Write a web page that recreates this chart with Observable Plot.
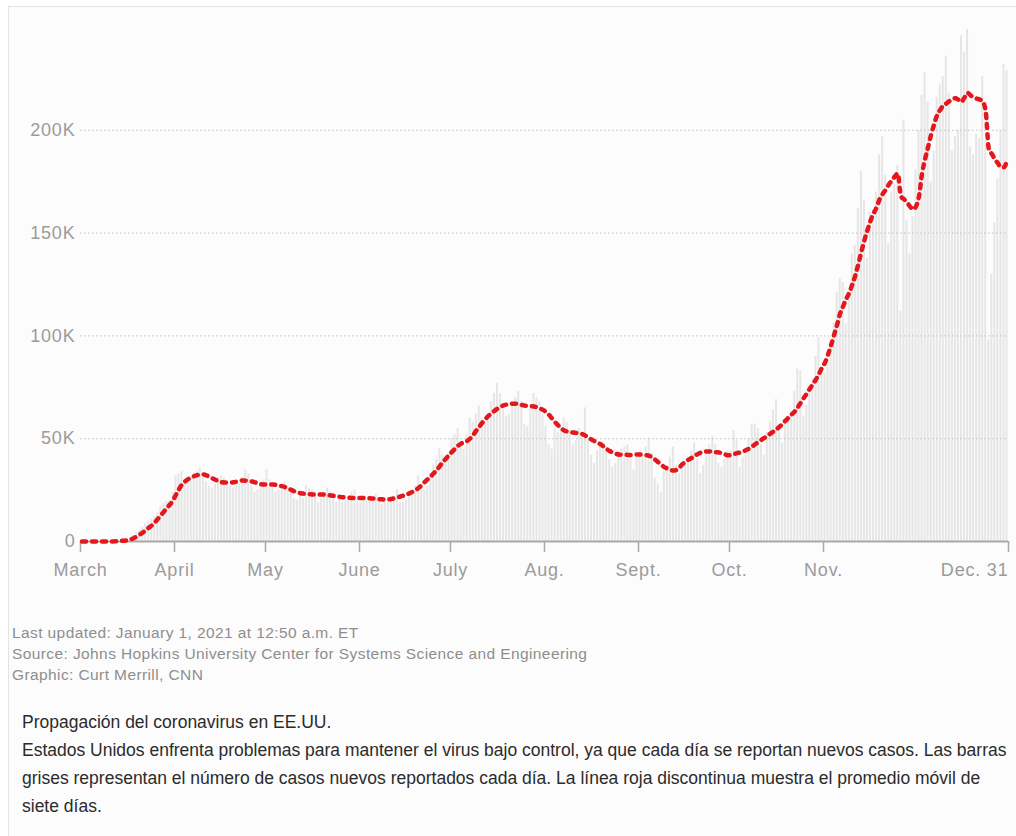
<!DOCTYPE html>
<html>
<head>
<meta charset="utf-8">
<script src="https://cdn.jsdelivr.net/npm/d3@7"></script>
<script src="https://cdn.jsdelivr.net/npm/@observablehq/plot@0.6"></script>
<style>
  body { margin: 0; background: #ffffff; font-family: "Liberation Sans", Arial, sans-serif; }
  #frame { position: absolute; left: 8px; top: 6px; width: 1100px; height: 900px;
           border-left: 1px solid #e3e3e3; border-top: 1px solid #e3e3e3; background: #fcfcfc; }
  #chart { position: absolute; left: 0; top: 0; }
  #notes { position: absolute; left: 12px; top: 622px; font-size: 15.5px; line-height: 21px;
           color: #8e8e8e; white-space: nowrap; letter-spacing: 0.4px; }
  #desc { position: absolute; left: 22px; top: 708px; font-size: 17.5px; line-height: 28px;
          color: #2b2b2b; white-space: nowrap; }
</style>
</head>
<body>
<div id="frame"></div>
<div id="chart"></div>
<div id="notes"></div>
<div id="desc"></div>
<script>
// ---- data (values in thousands of new cases per day) ----
const startDate = "2020-03-01";
const endDate = "2021-01-01";

const dailyCases = [
  // March
  0.01,0.02,0.03,0.04,0.06,0.08,0.12,0.11,0.17,0.29,0.4,0.5,0.66,0.72,0.9,1.2,2,3,4.5,5.5,7,8.5,10,11,12,14,17,18.5,19.5,20,24,
  // April
  32,33,34,28,30,31,33,34,35.5,31,29,27,26,28,31,32,31,29,27,26,27,28,31,35,33,27,24,25,27,30,
  // May
  35,30,26,24,25,27,29,27,26,21,20,22,21,27,26,25,24,19,21,22,26,24,23,19,21,19,20,21,24,25,22,
  // June
  19,21,20,22,21,23,20,18,19,20,21,22,25,19,19,20,23,25,27,32,26,25,27,33,37,40,45,42,38,43,
  // July
  50,52,55,47,45,52,60,58,62,66,60,58,59,68,72,77,72,64,61,62,66,70,73,68,57,56,65,72,70,68,62,
  // August
  56,47,45,55,53,56,60,58,54,47,49,55,52,65,50,42,38,44,46,47,46,40,36,38,44,45,46,47,42,35,41,
  // September
  44,42,46,50,43,31,28,24,34,37,41,46,37,33,37,39,38,44,48,40,33,37,44,47,51,47,38,36,40,44,
  // October
  44,54,49,36,41,43,50,57,57,55,47,42,53,58,64,69,57,48,58,61,63,73,84,83,61,66,74,79,90,99,84,
  // November
  82,88,95,106,121,128,126,106,120,140,144,162,180,166,138,160,158,170,188,197,178,145,170,174,183,112,205,156,140,158,
  // December
  181,200,217,228,214,175,190,216,222,226,236,218,190,197,200,246,238,249,192,188,198,196,226,195,98,130,155,176,200,232,229
];

const sevenDayAverage = [
  // March
  0,0,0,0,0,0,0,0,0,0,0,0.1,0.2,0.3,0.4,0.6,1,1.6,2.4,3.3,4.3,5.5,6.7,7.8,9.2,11,12.8,14.5,16.3,18,20,
  // April
  22.8,25.5,27.8,29.2,30.3,31.2,31.8,32.3,32.6,32.6,32.2,31.4,30.7,30,29.3,28.8,28.7,28.7,28.7,28.8,29.1,29.5,29.7,29.6,29.4,29.2,28.8,28.3,27.9,27.7,
  // May
  27.7,27.7,27.7,27.5,27.2,26.9,26.4,25.8,25.1,24.4,23.9,23.5,23.3,23.1,23,22.9,22.9,22.9,22.9,22.8,22.6,22.4,22.2,22,21.7,21.5,21.4,21.3,21.2,21.2,21.2,
  // June
  21.2,21.2,21.1,21,20.9,20.7,20.6,20.5,20.4,20.5,20.7,21,21.4,21.9,22.3,22.7,23.5,24.2,25,26.1,27.3,28.9,30.3,31.6,33.2,34.8,36.7,38.6,40.3,42,
  // July
  43.6,45.1,46.6,47.6,48.4,48.9,50.1,51.8,53.9,55.8,57.8,59.5,61.1,62.3,63.5,64.6,65.5,66.2,66.6,66.8,67,67,66.8,66.4,66.1,65.9,65.8,65.7,65.3,64.7,64,
  // August
  63,61.6,59.8,58,56.5,55,54,53.5,53.2,53,52.8,52.6,52.2,51.5,50.5,49.6,48.8,48,47.3,46.2,45,44,43.3,42.7,42.3,42.2,42.2,42.1,42.1,42.2,42.3,
  // September
  42.3,42.2,42,41.7,41,39.8,38.6,37.4,36.2,35.5,34.9,34.5,34.8,36,37.6,38.8,39.8,40.6,41.5,42.5,43.2,43.6,43.8,43.8,43.6,43.4,43.3,43,42.4,41.9,
  // October
  42,42.5,43,43.3,43.8,44.5,45.2,46.2,47.3,48.4,49.4,50.4,51.5,52.5,53.5,54.6,55.8,57.2,58.8,60.3,61.8,63.2,65.2,67.5,69.8,72,74.3,76.5,78.8,81.5,84.5,
  // November
  87,91,95.5,100.5,105.5,111,114.5,118,121,125,129.5,135,141,146.5,151.5,156,159.5,162.5,166.5,169,171,173.5,175.5,177.5,179,168,166.5,165,163,161.5,
  // December
  163,168,179,186,192,198,203,207.5,210,212,213,214.2,215.2,215.6,214.8,213.8,216,218.2,217,216,215.4,215,214,209,191,188.5,186,184,182,182,185.5
];

const xTickDates = ["2020-03-01","2020-04-01","2020-05-01","2020-06-01","2020-07-01","2020-08-01","2020-09-01","2020-10-01","2020-11-01","2021-01-01"];
const xTickLabels = ["March","April","May","June","July","Aug.","Sept.","Oct.","Nov.","Dec. 31"];
const yTicks = [0, 50, 100, 150, 200];
const yTickLabels = ["0", "50K", "100K", "150K", "200K"];

const notes = [
  "Last updated: January 1, 2021 at 12:50 a.m. ET",
  "Source: Johns Hopkins University Center for Systems Science and Engineering",
  "Graphic: Curt Merrill, CNN"
];
const descLines = [
  "Propagación del coronavirus en EE.UU.",
  "Estados Unidos enfrenta problemas para mantener el virus bajo control, ya que cada día se reportan nuevos casos. Las barras",
  "grises representan el número de casos nuevos reportados cada día. La línea roja discontinua muestra el promedio móvil de",
  "siete días."
];

// ---- build table ----
const start = new Date(startDate + "T00:00:00Z");
const rows = dailyCases.map((v, i) => {
  const s = d3.utcDay.offset(start, i);
  return {
    start: s,
    end: d3.utcDay.offset(start, i + 1),
    mid: d3.utcHour.offset(s, 12),
    cases: v,
    avg: sevenDayAverage[i]
  };
});

const tickDates = xTickDates.map(d => new Date(d + "T00:00:00Z"));
const xLabelMap = new Map(tickDates.map((d, i) => [+d, xTickLabels[i]]));
const yLabelMap = new Map(yTicks.map((v, i) => [v, yTickLabels[i]]));

const chart = Plot.plot({
  width: 1016,
  height: 600,
  marginLeft: 80,
  marginRight: 8,
  marginTop: 27,
  marginBottom: 59,
  style: {
    background: "transparent",
    fontFamily: "'Liberation Sans', Arial, sans-serif",
    fontSize: "18px",
    letterSpacing: "0.8px",
    color: "#9b9b9b",
    overflow: "visible"
  },
  x: {
    type: "utc",
    domain: [start, new Date(endDate + "T00:00:00Z")],
    ticks: tickDates,
    tickFormat: d => xLabelMap.get(+d),
    tickSize: 11,
    tickPadding: 11,
    label: null
  },
  y: {
    domain: [0, 250],
    ticks: yTicks,
    tickFormat: v => yLabelMap.get(v),
    tickSize: 0,
    tickPadding: 5,
    label: null
  },
  marks: [
    Plot.rect(rows, {x1: "start", x2: "end", y1: 0, y2: "cases", fill: "#e6e6e6", insetLeft: 0.5, insetRight: 0.5}),
    Plot.ruleY(yTicks.filter(v => v > 0), {stroke: "#c2c2c2", strokeDasharray: "1.5,2.5", strokeWidth: 1}),
    Plot.ruleY([0], {stroke: "#a9a9a9", strokeWidth: 2}),
    Plot.line(rows, {x: "mid", y: "avg", stroke: "#e3171c", strokeWidth: 4.5, strokeDasharray: "4,6", curve: "monotone-x"})
  ]
});

// last x label right-aligned at the end of the axis
d3.select(chart).selectAll("text").each(function() {
  if (this.textContent === "Dec. 31") this.setAttribute("text-anchor", "end");
});
d3.select(chart).selectAll("g[aria-label='x-axis'] line, g[aria-label='x-axis tick'] path, g[aria-label='x-axis tick'] line")
  .attr("stroke", "#a9a9a9").attr("stroke-width", 1.5);

document.getElementById("chart").appendChild(chart);
document.getElementById("notes").innerHTML = notes.join("<br>");
document.getElementById("desc").innerHTML = descLines.join("<br>");
</script>
</body>
</html>
